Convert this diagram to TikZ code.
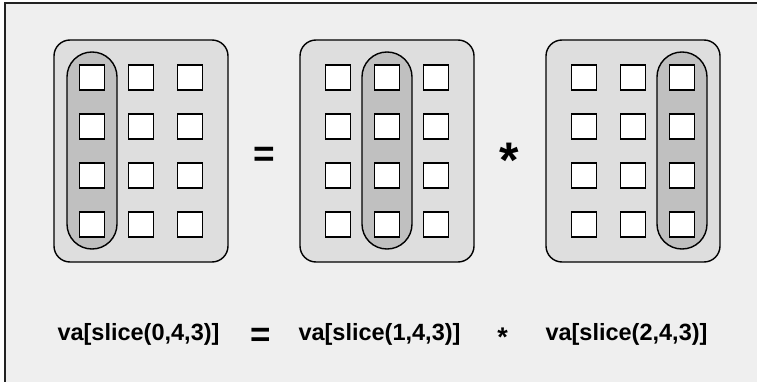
\documentclass[tikz,border=0pt]{standalone}
\usepackage{fontspec}
\setmainfont{Liberation Sans}
\definecolor{bgcol}{HTML}{EFEFEF}
\definecolor{panelcol}{HTML}{DEDEDE}
\definecolor{pillcol}{HTML}{C0C0C0}
\definecolor{framecol}{HTML}{222222}
\tikzset{
  panel/.style={draw=black, line width=1.4pt, fill=panelcol, rounded corners=16pt,
    minimum width=174pt, minimum height=222pt, inner sep=0pt, outer sep=0pt},
  pill/.style={draw=black, line width=1.4pt, fill=pillcol, rounded corners=24.9pt,
    minimum width=50pt, minimum height=197pt, inner sep=0pt, outer sep=0pt},
  cell/.style={draw=black, line width=1.6pt, fill=white,
    minimum width=25pt, minimum height=25pt, inner sep=0pt, outer sep=0pt},
  expr/.style={font=\bfseries\fontsize{23.5}{28}\selectfont, anchor=base, inner sep=0pt},
  opsym/.style={font=\bfseries, anchor=base, inner sep=0pt}
}
\begin{document}
\begin{tikzpicture}[x=1pt, y=-1pt]
\useasboundingbox (0,0) rectangle (757,382);
\fill[bgcol] (5,3) rectangle (770,395);
\draw[framecol, line width=2pt] (5,395) -- (5,3.5) -- (770,3.5);
\foreach \k in {0,1,2} {
  \pgfmathsetmacro{\xo}{54+246*\k}
  \node[panel] (p\k) at (\xo+87,151) {};
  \node[pill] (h\k) at (\xo+38+49*\k,150.5) {};
  \foreach \j in {0,1,2} {
    \foreach \i in {0,1,2,3} {
      \node[cell] (c\k\j\i) at (\xo+38+49*\j,77.5+49*\i) {};
    }
  }
}
\node[opsym, font=\bfseries\fontsize{37}{40}\selectfont] (eqtop) at (264,167) {=};
\node[opsym, font=\bfseries\fontsize{50}{55}\selectfont] (startop) at (509,178) {*};
\node[expr] (e0) at (138.5,340) {va[slice(0,4,3)]};
\node[opsym, font=\bfseries\fontsize{35}{40}\selectfont] (eqbot) at (260.5,346) {=};
\node[expr] (e1) at (379.5,340) {va[slice(1,4,3)]};
\node[opsym, font=\bfseries\fontsize{27}{30}\selectfont] (starbot) at (502.5,346) {*};
\node[expr] (e2) at (626.5,340) {va[slice(2,4,3)]};
\end{tikzpicture}
\end{document}
